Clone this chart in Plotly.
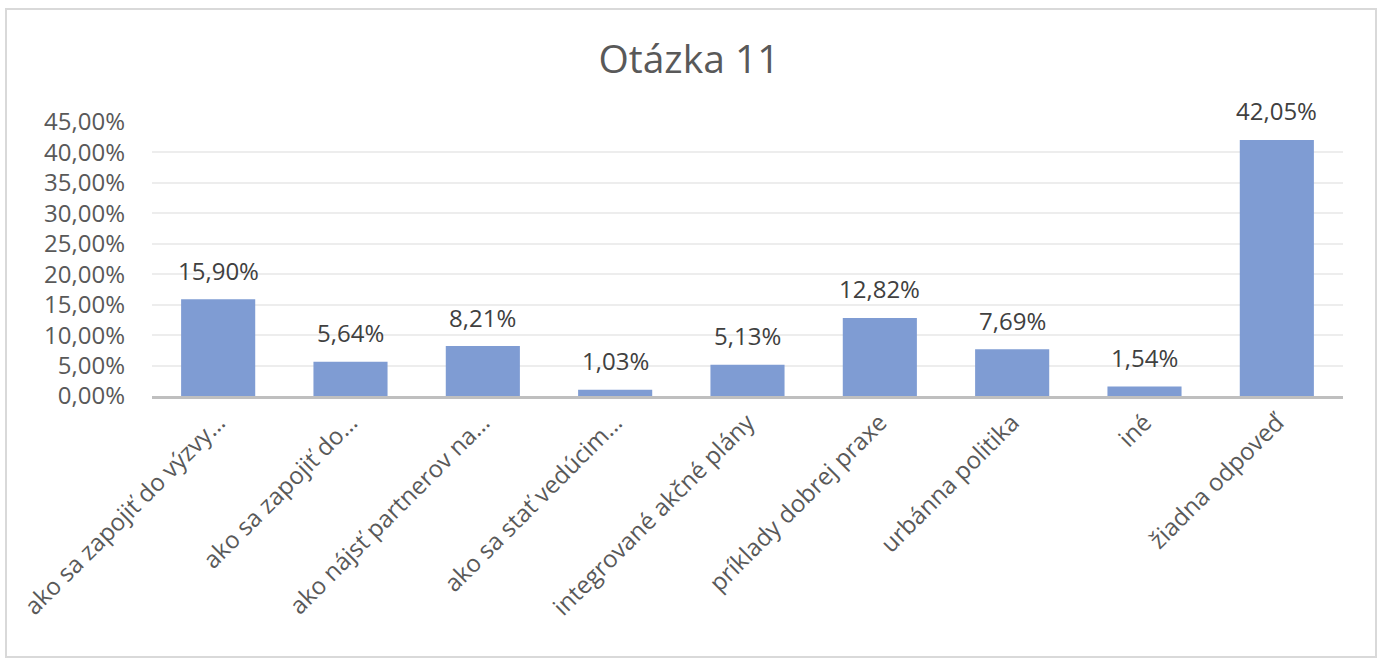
import plotly.graph_objects as go

categories = [
    "ako sa zapojiť do výzvy…",
    "ako sa zapojiť do…",
    "ako nájsť partnerov na…",
    "ako sa stať vedúcim…",
    "integrované akčné plány",
    "príklady dobrej praxe",
    "urbánna politika",
    "iné",
    "žiadna odpoveď",
]
values = [0.1590, 0.0564, 0.0821, 0.0103, 0.0513, 0.1282, 0.0769, 0.0154, 0.4205]
tick_vals = [0, 0.05, 0.10, 0.15, 0.20, 0.25, 0.30, 0.35, 0.40, 0.45]

FONT = "Open Sans"
W, H = 1384, 664
ML, MR, MT, MB = 152, 41, 122, 268

fig = go.Figure()
fig.add_trace(go.Bar(
    x=categories, y=values,
    marker=dict(color="#7F9CD3", line=dict(width=0)),
    hoverinfo="skip",
))

for c, v in zip(categories, values):
    fig.add_annotation(
        x=c, y=v, xref="x", yref="y",
        text=f"{v*100:.2f}%".replace(".", ","),
        showarrow=False, yanchor="middle", yshift=29,
        font=dict(family=FONT, size=24, color="#404040"),
    )

# outer chart border
pw, ph = W - ML - MR, H - MT - MB
def px_x(p): return (p - ML) / pw
def px_y(p): return (H - MB - p) / ph
fig.add_shape(type="rect", xref="paper", yref="paper",
              x0=px_x(6), x1=px_x(1376), y0=px_y(657), y1=px_y(9),
              line=dict(color="#D9D9D9", width=2), layer="below")

fig.update_layout(
    width=W, height=H,
    margin=dict(l=ML, r=MR, t=MT, b=MB),
    paper_bgcolor="white", plot_bgcolor="white",
    separators=",.",
    bargap=0.44,
    showlegend=False,
    title=dict(text="Otázka 11", x=689 / W, xanchor="center", xref="container",
               y=1 - 59 / H, yref="container", yanchor="middle",
               font=dict(family=FONT, size=39, color="#595959")),
    xaxis=dict(
        tickangle=-45, automargin=False,
        tickfont=dict(family=FONT, size=24, color="#595959"),
        showline=True, linecolor="#BFBFBF", linewidth=3,
        showgrid=False, ticks="", zeroline=False,
    ),
    yaxis=dict(
        range=[0, 0.45], tickvals=tick_vals, tickformat=".2%",
        automargin=False,
        tickfont=dict(family=FONT, size=24, color="#595959"),
        showgrid=True, gridcolor="#EDEDED", gridwidth=1.5,
        zeroline=False, showline=False, ticks="",
        ticklabelstandoff=26,
    ),
)

fig.write_html("out.html")
